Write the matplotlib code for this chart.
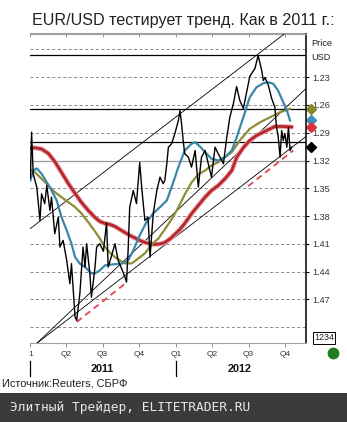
import matplotlib.pyplot as plt
import numpy as np
from matplotlib.lines import Line2D
from matplotlib.patches import Rectangle
from matplotlib.transforms import blended_transform_factory

SANS = ['Liberation Sans', 'DejaVu Sans']
plt.rcParams['font.family'] = SANS

# days since 2011-01-01, EUR/USD close
price_day = [0, 3, 7, 16, 24, 28, 36, 41, 49, 53, 61, 70, 74, 82, 91, 99, 103, 112, 116, 124,
             132, 137, 141, 149, 153, 162, 166, 174, 183, 191, 195, 204, 212, 220, 229, 237, 241, 245, 249, 258,
             266, 274, 279, 287, 295, 300, 308, 317, 325, 333, 337, 342, 346, 354, 362, 371, 375, 379, 383, 387,
             396, 404, 413, 421, 429, 438, 446, 454, 463, 471, 480, 484, 492, 500, 509, 517, 525, 534, 542, 550,
             563, 571, 580, 584, 588, 596, 605, 613, 617, 621, 626, 630, 634, 638, 643, 647, 651, 655]
price = [1.339, 1.2893, 1.3342, 1.3487, 1.3846, 1.3558, 1.3666, 1.3469, 1.3738, 1.3595,
         1.3990, 1.3811, 1.4134, 1.4062, 1.4278, 1.4529, 1.4313, 1.489, 1.4925, 1.4637,
         1.4134, 1.4350, 1.4098, 1.4421, 1.4674, 1.4350, 1.4134, 1.4098, 1.418, 1.3873,
         1.4350, 1.422, 1.4098, 1.4278, 1.437, 1.4458, 1.4512, 1.4170, 1.3703, 1.3523,
         1.3666, 1.322, 1.3487, 1.3846, 1.3811, 1.4242, 1.3774, 1.3523, 1.3379, 1.3450,
         1.3415, 1.3234, 1.3055, 1.3019, 1.2911, 1.2767, 1.2659, 1.2803, 1.2983, 1.3127,
         1.3163, 1.3271, 1.3091, 1.3487, 1.3163, 1.3091, 1.3234, 1.3379, 1.3055, 1.3127,
         1.3199, 1.3234, 1.296, 1.2732, 1.2584, 1.2400, 1.2551, 1.2638, 1.2465, 1.2292,
         1.2206, 1.2066, 1.2228, 1.2336, 1.2303, 1.2379, 1.2530, 1.2624, 1.2840, 1.2929,
         1.3163, 1.2875, 1.2983, 1.2908, 1.3055, 1.2840, 1.3091, 1.3055]

# short moving average
ma_short_day = [0, 7, 16, 28, 41, 53, 66, 78, 91, 103, 112, 124, 137, 153, 162, 174, 187, 208, 229, 245,
                258, 274, 291, 308, 325, 342, 354, 371, 387, 404, 413, 425, 438, 454, 471, 488, 505, 517, 534, 550,
                567, 584, 596, 609, 621, 634, 643, 651]
ma_short = [1.3415, 1.3307, 1.3285, 1.3342, 1.3433, 1.3523, 1.3631, 1.3811, 1.3954, 1.4098,
            1.4242, 1.4313, 1.4350, 1.4418, 1.4418, 1.4386, 1.4332, 1.432, 1.4313, 1.4278,
            1.4170, 1.4008, 1.3865, 1.3771, 1.3703, 1.3631, 1.3487, 1.3271, 1.3091, 1.3019,
            1.3001, 1.3048, 1.3109, 1.3180, 1.3199, 1.3163, 1.3091, 1.2951, 1.2732, 1.2516,
            1.2408, 1.2365, 1.2354, 1.2371, 1.2444, 1.2570, 1.2659, 1.2767]

# medium moving average
ma_mid_day = [0, 11, 28, 45, 61, 78, 95, 112, 128, 145, 162, 174, 187, 199, 212, 224, 237, 254, 270, 287,
              304, 321, 337, 354, 371, 387, 404, 421, 438, 454, 471, 488, 505, 525, 550, 576, 601, 626, 651]
ma_mid = [1.3296, 1.3325, 1.3396, 1.3469, 1.3541, 1.3595, 1.3649, 1.3703, 1.3771, 1.3865,
          1.3965, 1.4041, 1.4134, 1.4192, 1.4242, 1.4278, 1.4310, 1.4310, 1.4259, 1.4202,
          1.4106, 1.4041, 1.3943, 1.3835, 1.3706, 1.3566, 1.3436, 1.3350, 1.3307, 1.3253,
          1.3217, 1.3163, 1.3109, 1.2983, 1.2857, 1.2786, 1.2732, 1.2678, 1.2641]

# long moving average
ma_long_day = [0, 11, 28, 45, 61, 78, 95, 112, 128, 145, 162, 174, 187, 199, 212, 224, 237, 249, 262, 274,
               287, 300, 312, 325, 337, 350, 362, 375, 387, 404, 421, 438, 454, 471, 488, 505, 517, 534, 550, 567,
               584, 601, 613, 633, 655]
ma_long = [1.3069, 1.3062, 1.3075, 1.3123, 1.3210, 1.3328, 1.3447, 1.3555, 1.3652, 1.3738,
           1.3814, 1.3857, 1.3879, 1.3889, 1.3911, 1.3943, 1.3976, 1.4008, 1.4035, 1.4062,
           1.4084, 1.4100, 1.4105, 1.4100, 1.4084, 1.4046, 1.3997, 1.3943, 1.3879, 1.3774,
           1.3684, 1.3595, 1.3523, 1.3469, 1.3396, 1.3307, 1.3166, 1.3059, 1.2983, 1.2929,
           1.2893, 1.2857, 1.2832, 1.2832, 1.2837]

# channel and trend lines: (day, rate) end points
channel_top = ([0, 638], [1.3933, 1.1828])
channel_bottom = ([16, 691], [1.5173, 1.2940])
steep_line = ([16, 691], [1.5173, 1.2422])
red_trend = ([116, 659], [1.4943, 1.3091])
red_trend_parts = [(116, 241), (546, 659)]
levels = [1.2058, 1.2638, 1.3001]

grid_levels = [1.20, 1.23, 1.26, 1.29, 1.35, 1.38, 1.41, 1.44, 1.47, 1.50]
y_ticks = [1.23, 1.26, 1.29, 1.32, 1.35, 1.38, 1.41, 1.44, 1.47]
quarter_day = [0, 90, 181, 273, 365, 456, 547, 639]
quarter_label = ['1', 'Q2', 'Q3', 'Q4', 'Q1', 'Q2', 'Q3', 'Q4']
year_sep_day = [0, 366]
year_label_day = [179, 525]
year_label = ['2011', '2012']

C_RED = '#b8262e'
C_TEAL = '#3a87aa'
C_OLIVE = '#8e8c34'

fig = plt.figure(figsize=(3.47, 4.22), dpi=100)
W, H = 347, 422
ax = fig.add_axes([30 / W, 1 - 343.3 / H, 276 / W, 309.8 / H])
ax.set_xlim(-1, 691)
ax.set_ylim(1.5173, 1.1828)

for lv in grid_levels:
    ax.axhline(lv, color='#8c8c8c', lw=0.7, ls=(0, (3.2, 2.4)), zorder=1)
ax.axhline(1.32, color='#9a9a9a', lw=0.9, zorder=1)
for lv in levels:
    ax.axhline(lv, color='black', lw=0.9, zorder=2)

# trend lines
for xs, ys in (channel_top, channel_bottom, steep_line):
    ax.plot(xs, ys, color='black', lw=0.6, zorder=3)
for a, b in red_trend_parts:
    xs = [a, b]
    ax.plot(xs, np.interp(xs, *red_trend), color='#e0444c', lw=1.3,
            ls=(0, (3.5, 2.5)), zorder=3)

ax.plot(ma_long_day, ma_long, color='#e9a0a4', lw=3.4, zorder=4, solid_capstyle='round')
ax.plot(ma_long_day, ma_long, color=C_RED, lw=2.0, zorder=4)
ax.plot(ma_mid_day, ma_mid, color=C_OLIVE, lw=1.6, zorder=5)
ax.plot(ma_short_day, ma_short, color=C_TEAL, lw=1.6, zorder=6)
ax.plot(price_day, price, color='black', lw=1.0, zorder=7)

# last values marked outside the frame
tr = blended_transform_factory(ax.transAxes, ax.transData)
for val, col in ((ma_mid[-1], '#8a8a28'), (ma_short[-1], '#3b8fb8'),
                 (ma_long[-1], '#d8323a'), (price[-1], 'black')):
    ax.plot([1.018], [val], marker='D', ms=5, color=col, transform=tr, clip_on=False)

ax.spines['left'].set_visible(False)
ax.spines['right'].set_color('black')
ax.spines['right'].set_linewidth(1.1)
ax.spines['bottom'].set_color('#a0a0a0')
ax.spines['bottom'].set_linewidth(0.8)
ax.spines['top'].set_color('#a0a0a0')
ax.spines['top'].set_linewidth(0.8)

ax.yaxis.tick_right()
ax.set_yticks(y_ticks)
ax.set_yticklabels([f'{v:.2f}' for v in y_ticks], fontsize=6.6, color='#333333')
ax.tick_params(axis='y', length=2.5, width=0.8, pad=1.8, color='black')

ax.set_xticks(quarter_day)
ax.set_xticklabels(quarter_label, fontsize=6.0, color='#333333')
ax.tick_params(axis='x', length=3, width=0.7, pad=2.5, color='#909090')
top = ax.secondary_xaxis('top')
top.set_xticks(quarter_day)
top.set_xticklabels([])
top.tick_params(direction='in', length=3, width=0.7, color='#909090')
top.spines['top'].set_color('#a0a0a0')

# year labels and separators below the quarters
trx = blended_transform_factory(ax.transData, fig.transFigure)
for d in year_sep_day:
    ax.plot([d, d], [1 - 361 / H, 1 - 376 / H], color='black', lw=0.9,
            transform=trx, clip_on=False)
for d, lab in zip(year_label_day, year_label):
    fig.text(d, 1 - 369 / H, lab, transform=trx, ha='center', va='center',
             fontsize=7.8, fontweight='bold', color='#111111')

fig.text(32 / W, 1 - 25 / H, 'EUR/USD тестирует тренд. Как в 2011 г.:',
         fontsize=11.6, color='#222222', ha='left', va='baseline')
fig.text(311 / W, 1 - 43 / H, 'Price', fontsize=6.6, va='center', color='#222222')
fig.text(311 / W, 1 - 57 / H, 'USD', fontsize=6.6, va='center', color='#222222')
fig.text(314 / W, 1 - 338 / H, '1234', fontsize=6.4, va='center', color='#222222',
         bbox=dict(boxstyle='square,pad=0.12', fc='white', ec='black', lw=0.7))
fig.add_artist(Line2D([333 / W], [1 - 353 / H], marker='o', ms=7.5, color='#1f7d1f',
                      transform=fig.transFigure))

fig.text(2 / W, 1 - 384 / H, 'Источник:Reuters, СБРФ', fontsize=7.9, color='#222222',
         ha='left', va='center')

fig.add_artist(Rectangle((0, 0), 1, 1 - 393 / H, transform=fig.transFigure,
                         facecolor='#3b3b3b', edgecolor='none'))
fig.text(10 / W, 1 - 408 / H, 'Элитный Трейдер, ELITETRADER.RU', family='DejaVu Sans Mono',
         fontsize=9.3, color='#e6e6e6', ha='left', va='center')

fig.savefig('out.png', dpi=100)
